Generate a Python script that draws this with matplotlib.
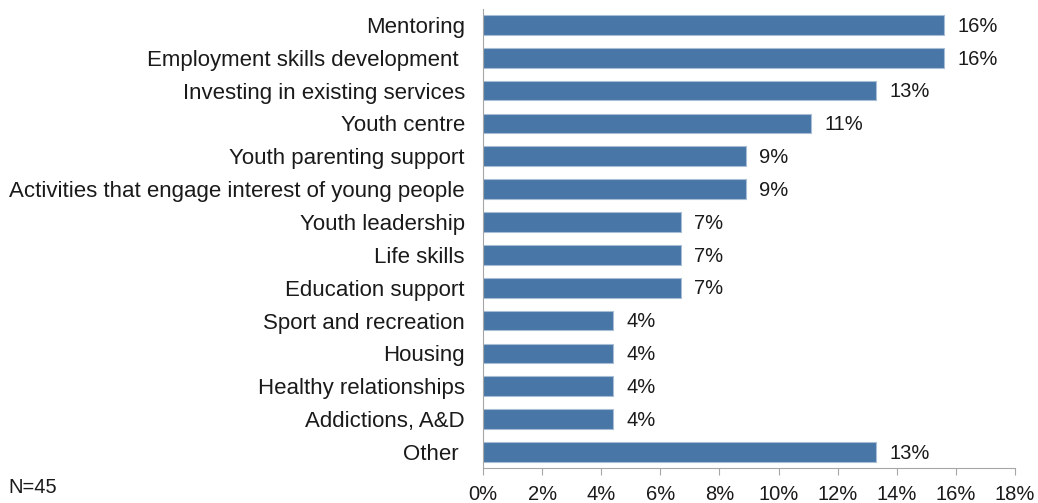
import matplotlib
matplotlib.use("Agg")
import matplotlib.pyplot as plt
from matplotlib.ticker import FuncFormatter

plt.rcParams['font.family'] = ['Liberation Sans', 'DejaVu Sans']

categories = ["Mentoring", "Employment skills development ", "Investing in existing services",
              "Youth centre", "Youth parenting support",
              "Activities that engage interest of young people", "Youth leadership",
              "Life skills", "Education support", "Sport and recreation", "Housing",
              "Healthy relationships", "Addictions, A&D", "Other "]
# share of respondents (N=45), in percent
values = [15.6, 15.6, 13.3, 11.1, 8.9, 8.9, 6.7, 6.7, 6.7, 4.4, 4.4, 4.4, 4.4, 13.3]
xticks = [0, 2, 4, 6, 8, 10, 12, 14, 16, 18]

fig = plt.figure(figsize=(10.38, 5.03), dpi=100)
ax = fig.add_axes([0.4653, 0.069, 0.5125, 0.914])

ypos = list(range(len(categories)))
ax.barh(ypos, values, height=0.6, color='#4876a6', edgecolor='#a8bdd6', linewidth=0.8)
ax.set_ylim(len(categories) - 0.5, -0.5)
ax.set_xlim(0, 18)

for y, v in zip(ypos, values):
    ax.text(v + 0.45, y + 0.04, f"{v:.0f}%", va='center', ha='left', fontsize=14.5, color='#1a1a1a')

ax.set_yticks(ypos)
ax.set_yticklabels(categories, fontsize=16, color='#1a1a1a')
ax.set_xticks(xticks)
ax.xaxis.set_major_formatter(FuncFormatter(lambda x, p: f"{x:.0f}%"))
ax.tick_params(axis='x', labelsize=14.5, colors='#1a1a1a', direction='out', length=5,
               color='#a6a6a6', pad=7)
ax.tick_params(axis='y', length=0, pad=13)

for s in ['top', 'right']:
    ax.spines[s].set_visible(False)
ax.spines['left'].set_color('#a6a6a6')
ax.spines['bottom'].set_color('#a6a6a6')

fig.text(0.008, 0.02, "N=45", fontsize=14.5, color='#1a1a1a')

fig.savefig("out.png", dpi=100)
